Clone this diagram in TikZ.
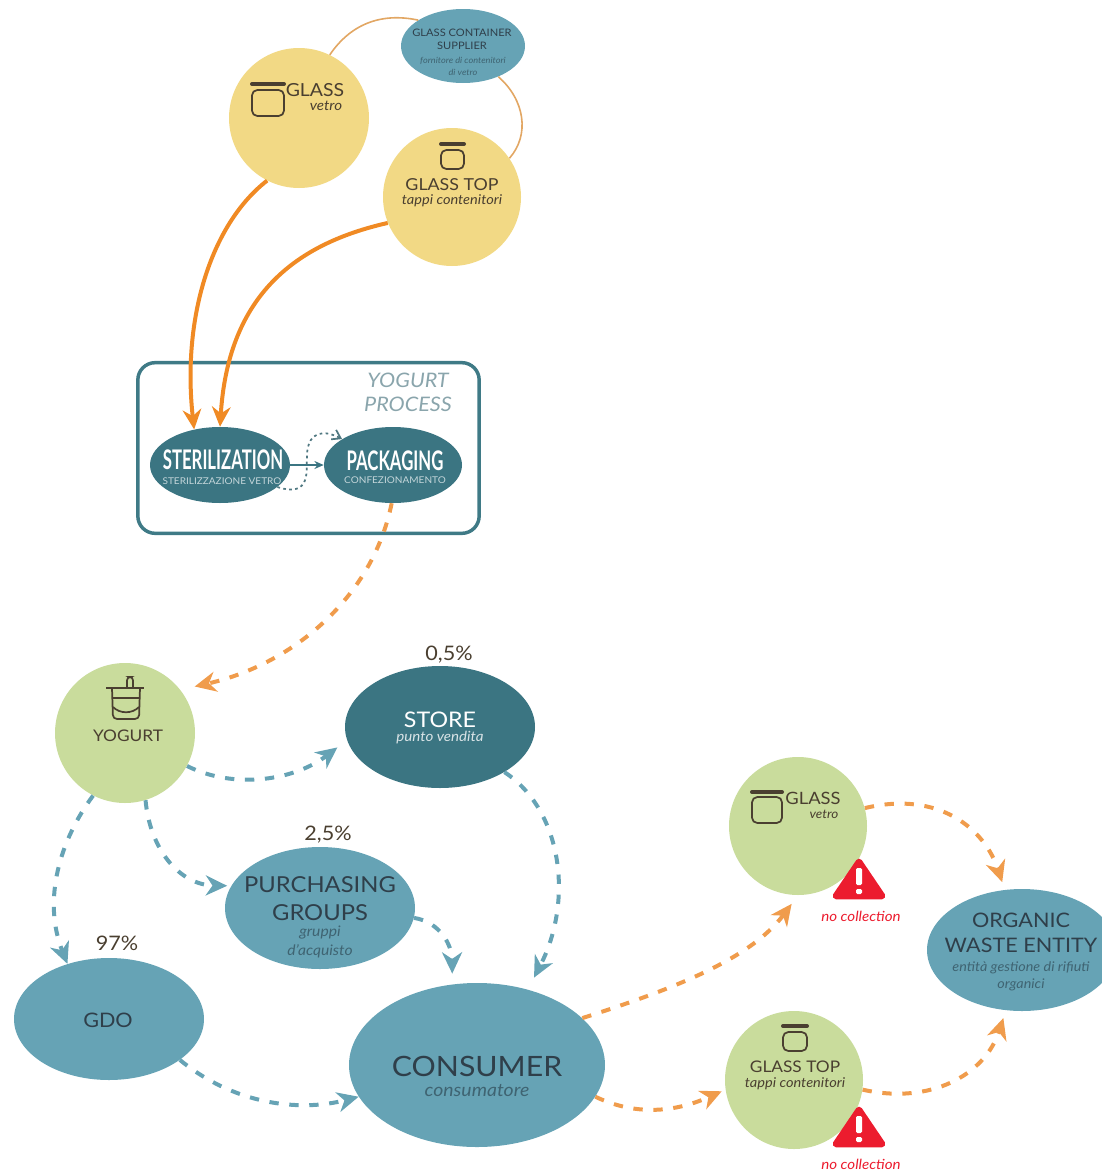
\documentclass[tikz,border=0pt]{standalone}
\usepackage{fontspec}
\setmainfont{Lato}[FakeStretch=1.08]
\newfontfamily\condf{Lato}[FakeStretch=0.62]
\usetikzlibrary{shapes.geometric,arrows.meta}
\definecolor{yel}{HTML}{F2D985}
\definecolor{grn}{HTML}{C9DC9C}
\definecolor{tealm}{HTML}{66A3B5}
\definecolor{teald}{HTML}{3B7582}
\definecolor{tealbox}{HTML}{3F7A86}
\definecolor{org}{HTML}{F08A24}
\definecolor{orgl}{HTML}{F09C4C}
\definecolor{tan}{HTML}{E2A764}
\definecolor{dashb}{HTML}{66A3B5}
\definecolor{ink}{HTML}{4A3F30}
\definecolor{inkd}{HTML}{2F3F4A}
\definecolor{subd}{HTML}{3F6472}
\definecolor{warn}{HTML}{EC1C2E}
\definecolor{proc}{HTML}{8AA5AC}
\newcommand{\px}[1]{\fontsize{\the\dimexpr#1pt*3/4\relax}{\the\dimexpr#1pt*9/10\relax}\selectfont}
\tikzset{
  x=0.75pt,y=-0.75pt,
  roundn/.style={circle,inner sep=0pt,minimum size=#1*1.5pt,fill=yel},
  ell/.style 2 args={ellipse,inner sep=0pt,minimum width=#1*1.5pt,minimum height=#2*1.5pt},
  lbl/.style={inner sep=0pt,align=center},
  sub/.style={inner sep=0pt,align=center,font=\itshape},
  tip/.style={-{Stealth[length=15pt,width=14pt,inset=5pt]}},
  solidorg/.style={draw=org,line width=3pt,tip},
  thintan/.style={draw=tan,line width=1.2pt},
  dashorg/.style={draw=orgl,line width=3pt,dash pattern=on 7pt off 8pt,-{Stealth[length=16pt,width=15pt,inset=5pt]}},
  dashblue/.style={draw=dashb,line width=3pt,dash pattern=on 7pt off 8pt,-{Stealth[length=16pt,width=15pt,inset=5pt]}},
  icon/.style={draw=ink,line width=1.3pt,rounded corners=2.5pt},
  warntri/.style={fill=warn,draw=warn,line width=5pt,line join=round},
}
% jar icon: lid left, lid right, lid y, body top, body bottom
\newcommand{\jaricon}[5]{%
  \draw[icon,line width=3pt,rounded corners=0pt,line cap=round] (#1+1,#3) -- (#2-1,#3);
  \draw[icon,rounded corners=4pt] (#1+1,#4) rectangle (#2-1,#5);
}
\newcommand{\warnicon}[2]{%
  \fill[warntri] (#1,#2+12) -- (#1+23,#2+46) -- (#1-23,#2+46) -- cycle;
  \fill[white,rounded corners=1pt] (#1-3,#2+18) rectangle (#1+3,#2+35);
  \fill[white,rounded corners=1pt] (#1-3,#2+39) rectangle (#1+3,#2+44);
}
\begin{document}
\begin{tikzpicture}
\useasboundingbox (0,0) rectangle (1102,1174);
% --- nodes
\node[roundn=70] (glassY) at (299,118) {};
\node[roundn=69] (topY) at (452,197) {};
\node[ell={62}{37},fill=tealm] (supplier) at (463,46) {};
\node[draw=tealbox,line width=2.6pt,rounded corners=13pt,minimum width=256pt,minimum height=128pt,inner sep=0pt] (process) at (308.5,448) {};
\node[ell={70}{38},fill=teald] (ster) at (220,465) {};
\node[ell={69}{38},fill=teald] (pack) at (393,465) {};
\node[roundn=70,fill=grn] (yogurt) at (125,733) {};
\node[ell={95}{61},fill=teald] (store) at (440,727) {};
\node[ell={95}{61},fill=tealm] (purch) at (320,908) {};
\node[ell={95}{61},fill=tealm] (gdo) at (109,1019) {};
\node[ell={128}{82},fill=tealm] (consumer) at (477,1065) {};
\node[roundn=69,fill=grn] (glassG) at (798,826) {};
\node[roundn=69,fill=grn] (topG) at (794,1080) {};
\node[ell={95}{61},fill=tealm] (organic) at (1022,950) {};
% --- connectors
\draw[thintan] (glassY.64) .. controls (350,25) and (380,12) .. (supplier.150);
\draw[thintan] (supplier.319) .. controls (525,100) and (530,135) .. (topY.34);
\draw[solidorg] (glassY.243) .. controls (210,225) and (182,320) .. (ster.126);
\draw[solidorg] (topY.202) .. controls (290,245) and (228,300) .. (ster.north);
\draw[draw=teald,line width=1.2pt,-{Stealth[length=7pt,width=6pt]}] (ster.east) -- (pack.west);
\draw[draw=teald!70!gray,line width=1.3pt,dash pattern=on 2pt off 2.5pt,-{Straight Barb[length=6pt,width=8pt]}] (ster.339) .. controls (312,498) and (306,470) .. (307,455) .. controls (308,430) and (325,430) .. (pack.153);
\draw[dashorg,shorten >=11pt] (pack.268) .. controls (372,600) and (290,665) .. (yogurt.38);
\draw[dashblue,shorten >=9pt] (yogurt.332) .. controls (235,790) and (295,780) .. (store.188);
\draw[dashblue] (yogurt.243) .. controls (60,840) and (42,900) .. (gdo.127);
\draw[dashblue,shorten >=3pt] (yogurt.287) .. controls (150,850) and (180,885) .. (purch.166);
\draw[dashblue,shorten >=10pt] (store.325) .. controls (562,810) and (574,900) .. (consumer.56);
\draw[dashblue,shorten >=8pt] (purch.354) .. controls (440,922) and (452,945) .. (consumer.107);
\draw[dashblue] (gdo.330) .. controls (235,1105) and (300,1112) .. (consumer.195);
\draw[dashorg,shorten >=8pt] (consumer.24) .. controls (670,990) and (750,960) .. (glassG.270);
\draw[dashorg,shorten >=3pt] (consumer.345) .. controls (640,1118) and (680,1110) .. (topG.188);
\draw[dashorg,shorten >=6pt] (glassG.15) .. controls (940,790) and (985,830) .. (organic.106);
\draw[dashorg,shorten >=6pt] (topG.352) .. controls (930,1105) and (985,1075) .. (organic.255);
% --- icons
\jaricon{251}{285}{84}{90}{116}
\jaricon{440}{465}{144}{150}{169}
\jaricon{751}{783}{792}{797}{823}
\jaricon{782}{808}{1026}{1032}{1051}
\draw[icon,rounded corners=0pt] (106,688) -- (144,688);
\draw[icon,rounded corners=2.5pt] (127,688) -- (127,677) -- (133,677) -- (133,688);
\draw[icon,rounded corners=3pt] (112,688) -- (113,719) -- (139,719) -- (140,688);
\draw[icon,rounded corners=0pt] (112,698) -- (140,698);
\draw[icon,rounded corners=0pt] (113,707) .. controls (120,714) and (132,714) .. (139,707);
\warnicon{859}{850}
\warnicon{859}{1098}
% --- texts
\node[lbl,text=ink,font=\px{18}] (t1) at (315,90) {GLASS};
\node[sub,text=ink,font=\itshape\px{14}] (t2) at (326,106) {vetro};
\node[lbl,text=ink,font=\px{16.5}] (t3) at (452,185) {GLASS TOP};
\node[sub,text=ink,font=\itshape\px{13.5}] (t4) at (452,201) {tappi contenitori};
\node[lbl,text=inkd,font=\px{10.3}] (t5) at (462,33) {GLASS CONTAINER};
\node[lbl,text=inkd,font=\px{10.3}] (t6) at (462,46) {SUPPLIER};
\node[sub,text=subd,font=\itshape\px{8.5}] (t7) at (463,61) {fornitore di contenitori};
\node[sub,text=subd,font=\itshape\px{8.5}] (t8) at (463,72) {di vetro};
\node[sub,text=proc,font=\itshape\px{20}] (t9) at (408,380) {YOGURT};
\node[sub,text=proc,font=\itshape\px{20}] (t10) at (408,404) {PROCESS};
\node[lbl,text=white,font=\condf\bfseries\px{27}] (t11) at (223,460) {STERILIZATION};
\node[lbl,text=white!70!teald,font=\px{9.3}] (t12) at (222,481) {STERILIZZAZIONE VETRO};
\node[lbl,text=white,font=\condf\bfseries\px{27}] (t13) at (395,461) {PACKAGING};
\node[lbl,text=white!70!teald,font=\px{9.3}] (t14) at (395,480) {CONFEZIONAMENTO};
\node[lbl,text=ink,font=\px{20}] (t15) at (449,655) {0,5\%};
\node[lbl,text=white,font=\px{21.5}] (t16) at (440,720) {STORE};
\node[sub,text=white!80!teald,font=\itshape\px{14}] (t17) at (440,738) {punto vendita};
\node[lbl,text=ink,font=\px{16}] (t18) at (128,736) {YOGURT};
\node[lbl,text=ink,font=\px{20}] (t19) at (328,835) {2,5\%};
\node[lbl,text=inkd,font=\px{22}] (t20) at (320,885) {PURCHASING};
\node[lbl,text=inkd,font=\px{22}] (t21) at (320,913) {GROUPS};
\node[sub,text=subd,font=\itshape\px{14.5}] (t22) at (320,933) {gruppi};
\node[sub,text=subd,font=\itshape\px{14.5}] (t23) at (320,951) {d'acquisto};
\node[lbl,text=ink,font=\px{20}] (t24) at (117,943) {97\%};
\node[lbl,text=inkd,font=\px{20}] (t25) at (108,1020) {GDO};
\node[lbl,text=inkd,font=\px{28}] (t26) at (477,1066) {CONSUMER};
\node[sub,text=subd,font=\itshape\px{18}] (t27) at (477,1091) {consumatore};
\node[lbl,text=ink,font=\px{17}] (t28) at (813,798) {GLASS};
\node[sub,text=ink,font=\itshape\px{12.5}] (t29) at (824,814) {vetro};
\node[lbl,text=ink,font=\px{16}] (t30) at (795,1067) {GLASS TOP};
\node[sub,text=ink,font=\itshape\px{13.5}] (t31) at (795,1084) {tappi contenitori};
\node[lbl,text=inkd,font=\px{20}] (t32) at (1021,920) {ORGANIC};
\node[lbl,text=inkd,font=\px{20}] (t33) at (1021,945) {WASTE ENTITY};
\node[sub,text=subd,font=\itshape\px{13.3}] (t34) at (1021,968) {entità gestione di rifiuti};
\node[sub,text=subd,font=\itshape\px{13.3}] (t35) at (1021,985) {organici};
\node[sub,text=warn,font=\itshape\px{14}] (t36) at (861,916) {no collection};
\node[sub,text=warn,font=\itshape\px{14}] (t37) at (861,1164) {no collection};
\end{tikzpicture}
\end{document}
